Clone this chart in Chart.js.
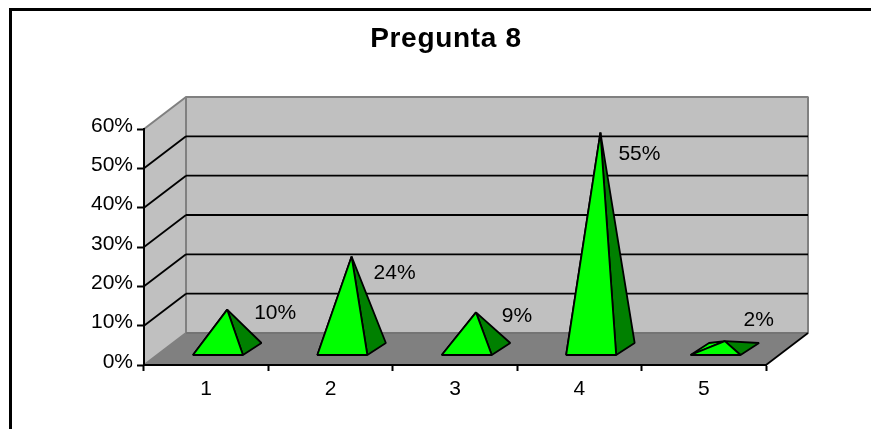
<!DOCTYPE html>
<html>
<head>
<meta charset="utf-8">
<style>html,body{margin:0;padding:0;background:#fff}canvas{display:block}</style>
<script src="https://cdn.jsdelivr.net/npm/chart.js@4/dist/chart.umd.min.js"></script>
</head>
<body>
<canvas id="c" width="871" height="429"></canvas>
<script>
const categories = ['1', '2', '3', '4', '5'];
const percentages = [10, 23.5, 9.3, 55, 2];
const chartTitle = 'Pregunta 8';
const FONT = '"Liberation Sans", Arial, sans-serif';

const scene = {
  depthX: 42, depthY: 32,
  baseHalfWidth: 25, baseSkewX: 9.25, baseSkewY: 6,
  labelNudge: [[48, 4], [43, 17], [41, 4], [39, 22], [34, -21]]
};

function poly(ctx, pts, fill, stroke, lw) {
  ctx.beginPath();
  pts.forEach((p, i) => i ? ctx.lineTo(p[0], p[1]) : ctx.moveTo(p[0], p[1]));
  ctx.closePath();
  if (fill) { ctx.fillStyle = fill; ctx.fill(); }
  if (stroke) { ctx.strokeStyle = stroke; ctx.lineWidth = lw; ctx.lineJoin = 'bevel'; ctx.stroke(); }
}
function seg(ctx, a, b, color, lw) {
  ctx.beginPath(); ctx.moveTo(a[0], a[1]); ctx.lineTo(b[0], b[1]);
  ctx.strokeStyle = color; ctx.lineWidth = lw; ctx.stroke();
}

const pyramid3d = {
  id: 'pyramid3d',
  afterLayout(chart) {
    const tb = chart.titleBlock, ctx = chart.ctx, ys = chart.scales.y;
    tb.left += 63; tb.right += 63;
    if (!tb._spaced) {
      tb._spaced = true;
      const d = tb.draw;
      tb.draw = function () { ctx.save(); ctx.letterSpacing = '0.7px'; d.call(this); ctx.restore(); };
    }
    if (!ys._raised) {
      ys._raised = true;
      const g = ys.getLabelItems;
      ys.getLabelItems = function (area) {
        return g.call(this, area).map(it => ({
          ...it,
          options: { ...it.options, translation: [it.options.translation[0], it.options.translation[1] - 3] }
        }));
      };
    }
  },
  beforeDraw(chart) {
    const ctx = chart.ctx, x = chart.scales.x, y = chart.scales.y;
    const dx = scene.depthX, dy = scene.depthY;
    const L = x.left, R = x.right, B = y.getPixelForValue(0), T = y.getPixelForValue(60);
    ctx.save();
    ctx.fillStyle = '#fff'; ctx.fillRect(0, 0, chart.width, chart.height);
    // outer frame
    ctx.fillStyle = '#000';
    ctx.fillRect(9, 8, chart.width - 9, 3);
    ctx.fillRect(9, 8, 3, chart.height - 8);
    // side wall, back wall
    poly(ctx, [[L, B], [L + dx, B - dy], [L + dx, T - dy], [L, T]], '#c0c0c0', '#808080', 2);
    poly(ctx, [[L + dx, B - dy], [R + dx, B - dy], [R + dx, T - dy], [L + dx, T - dy]], '#c0c0c0', '#808080', 2);
    // gridlines
    y.ticks.forEach(t => {
      if (t.value === 0 || t.value === 60) return;
      const p = y.getPixelForValue(t.value);
      seg(ctx, [L, p], [L + dx, p - dy], '#000', 1.8);
      seg(ctx, [L + dx, p - dy], [R + dx, p - dy], '#000', 1.8);
    });
    // floor
    poly(ctx, [[L, B], [L + dx, B - dy], [R + dx, B - dy], [R, B]], '#808080', null, 0);
    seg(ctx, [L + dx, B - dy], [R + dx, B - dy], '#707070', 1.5);
    seg(ctx, [R, B], [R + dx, B - dy], '#000', 1.8);
    ctx.restore();
  },
  afterDatasetsDraw(chart) {
    const ctx = chart.ctx, y = chart.scales.y;
    const meta = chart.getDatasetMeta(0);
    const mx = scene.depthX / 2, my = scene.depthY / 2;
    const hw = scene.baseHalfWidth, sx = scene.baseSkewX, sy = scene.baseSkewY;
    const B = y.getPixelForValue(0);
    ctx.save();
    meta.data.forEach((el, i) => {
      const cx = el.x + mx, cy = B - my, apex = [cx, el.y - my];
      const FL = [cx - hw - sx, cy + sy], FR = [cx + hw - sx, cy + sy];
      const BR = [cx + hw + sx, cy - sy], BL = [cx - hw + sx, cy - sy];
      poly(ctx, [FL, BL, apex], '#00ff00', '#000', 1.8);
      poly(ctx, [FR, BR, apex], '#008000', '#000', 1.8);
      poly(ctx, [FL, FR, apex], '#00ff00', '#000', 1.8);
      ctx.fillStyle = '#000';
      ctx.font = '21px ' + FONT;
      ctx.textAlign = 'center';
      ctx.textBaseline = 'middle';
      const n = scene.labelNudge[i];
      ctx.fillText(Math.round(percentages[i]) + '%', apex[0] + n[0], apex[1] + n[1]);
    });
    ctx.restore();
  }
};

new Chart(document.getElementById('c'), {
  type: 'bar',
  data: {
    labels: categories,
    datasets: [{ data: percentages, backgroundColor: 'rgba(0,0,0,0)', borderWidth: 0 }]
  },
  plugins: [pyramid3d],
  options: {
    responsive: false,
    animation: false,
    devicePixelRatio: 1,
    layout: { padding: { left: 0, right: 105, top: 0, bottom: 0 } },
    plugins: {
      legend: { display: false },
      tooltip: { enabled: false },
      title: {
        display: true,
        text: chartTitle,
        color: '#000',
        font: { family: FONT, size: 28, weight: 'bold' },
        padding: { top: 22, bottom: 73.4 }
      }
    },
    scales: {
      x: {
        type: 'category',
        afterFit(s) { s.height = 64; },
        border: { color: '#000', width: 2 },
        grid: { drawOnChartArea: false, drawTicks: true, offset: true, color: '#000', tickLength: 6, tickWidth: 2, tickColor: '#000' },
        ticks: { color: '#000', font: { family: FONT, size: 21 }, padding: 6, maxRotation: 0 }
      },
      y: {
        min: 0, max: 60,
        afterFit(s) { s.width = 144; },
        border: { color: '#000', width: 2 },
        grid: { drawOnChartArea: false, drawTicks: true, color: '#000', tickLength: 7, tickWidth: 2, tickColor: '#000' },
        ticks: { stepSize: 10, color: '#000', font: { family: FONT, size: 21 }, padding: 4, callback: v => v + '%' }
      }
    }
  }
});
</script>
</body>
</html>
